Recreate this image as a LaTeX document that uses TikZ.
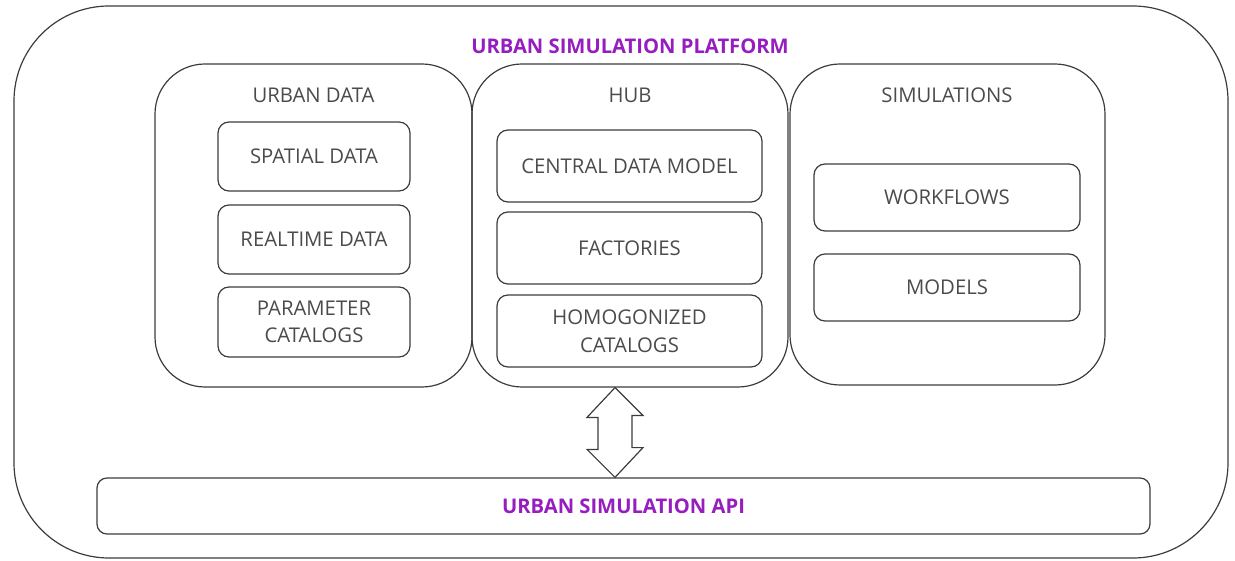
\documentclass[tikz,border=0pt]{standalone}
\usepackage{fontspec}
\setmainfont{Open Sans}
\definecolor{linec}{RGB}{60,60,60}
\definecolor{textc}{RGB}{75,75,75}
\definecolor{purp}{RGB}{150,30,190}
\begin{document}
\begin{tikzpicture}[x=1pt,y=-1pt,
  box/.style={draw=linec,line width=1.2pt,inner sep=0pt,minimum width=#1},
  item/.style={box=#1,rounded corners=11pt,font=\fontsize{20.3}{27.5}\selectfont,text=textc,align=center},
  grp/.style={box=#1,rounded corners=50pt},
  lbl/.style={font=\fontsize{20.3}{27.5}\selectfont,text=textc,inner sep=0pt},
  ttl/.style={font=\fontsize{20.2}{24}\selectfont\bfseries,text=purp,inner sep=0pt}]
\useasboundingbox (0,0) rectangle (1235,561);
\node[box=1214pt,minimum height=552pt,rounded corners=95pt] (outer) at (621,282) {};
\node[ttl] (ptitle) at (630,46) {URBAN SIMULATION PLATFORM};
% groups
\node[grp=317pt,minimum height=323pt] (ud) at (313.5,225.5) {};
\node[grp=316pt,minimum height=323pt] (hub) at (630,225.5) {};
\node[grp=315pt,minimum height=321pt] (sim) at (947.5,224.5) {};
\node[lbl] (udt) at (313.5,95) {URBAN DATA};
\node[lbl] (hubt) at (630,95) {HUB};
\node[lbl] (simt) at (947,95) {SIMULATIONS};
% urban data items
\node[item=192pt,minimum height=69pt] (spatial) at (314,156.5) {SPATIAL DATA};
\node[item=192pt,minimum height=69pt] (realtime) at (314,239.5) {REALTIME DATA};
\node[item=192pt,minimum height=70pt] (param) at (314,322) {PARAMETER\\CATALOGS};
% hub items
\node[item=265pt,minimum height=72pt] (central) at (629.5,166) {CENTRAL DATA MODEL};
\node[item=265pt,minimum height=72pt] (fact) at (629.5,248) {FACTORIES};
\node[item=265pt,minimum height=72pt] (homog) at (629.5,331) {HOMOGONIZED\\CATALOGS};
% simulation items
\node[item=266pt,minimum height=67pt] (wf) at (947,197.5) {WORKFLOWS};
\node[item=266pt,minimum height=67pt] (models) at (947,287.5) {MODELS};
% api
\node[box=1053pt,minimum height=56pt,rounded corners=10pt,ttl] (api) at (623.5,506) {URBAN SIMULATION API};
% double arrow between hub and api
\coordinate (at) at (hub.south -| 615,0);
\coordinate (ab) at (api.north -| 615,0);
\draw[linec,line width=1.2pt,line join=miter] (at) -- ++(28,28) -- ++(-11,0) -- ++(0,32) -- ++(11,0)
  -- (ab) -- ++(-28,-28) -- ++(11,0) -- ++(0,-32) -- ++(-11,0) -- cycle;
\end{tikzpicture}
\end{document}
